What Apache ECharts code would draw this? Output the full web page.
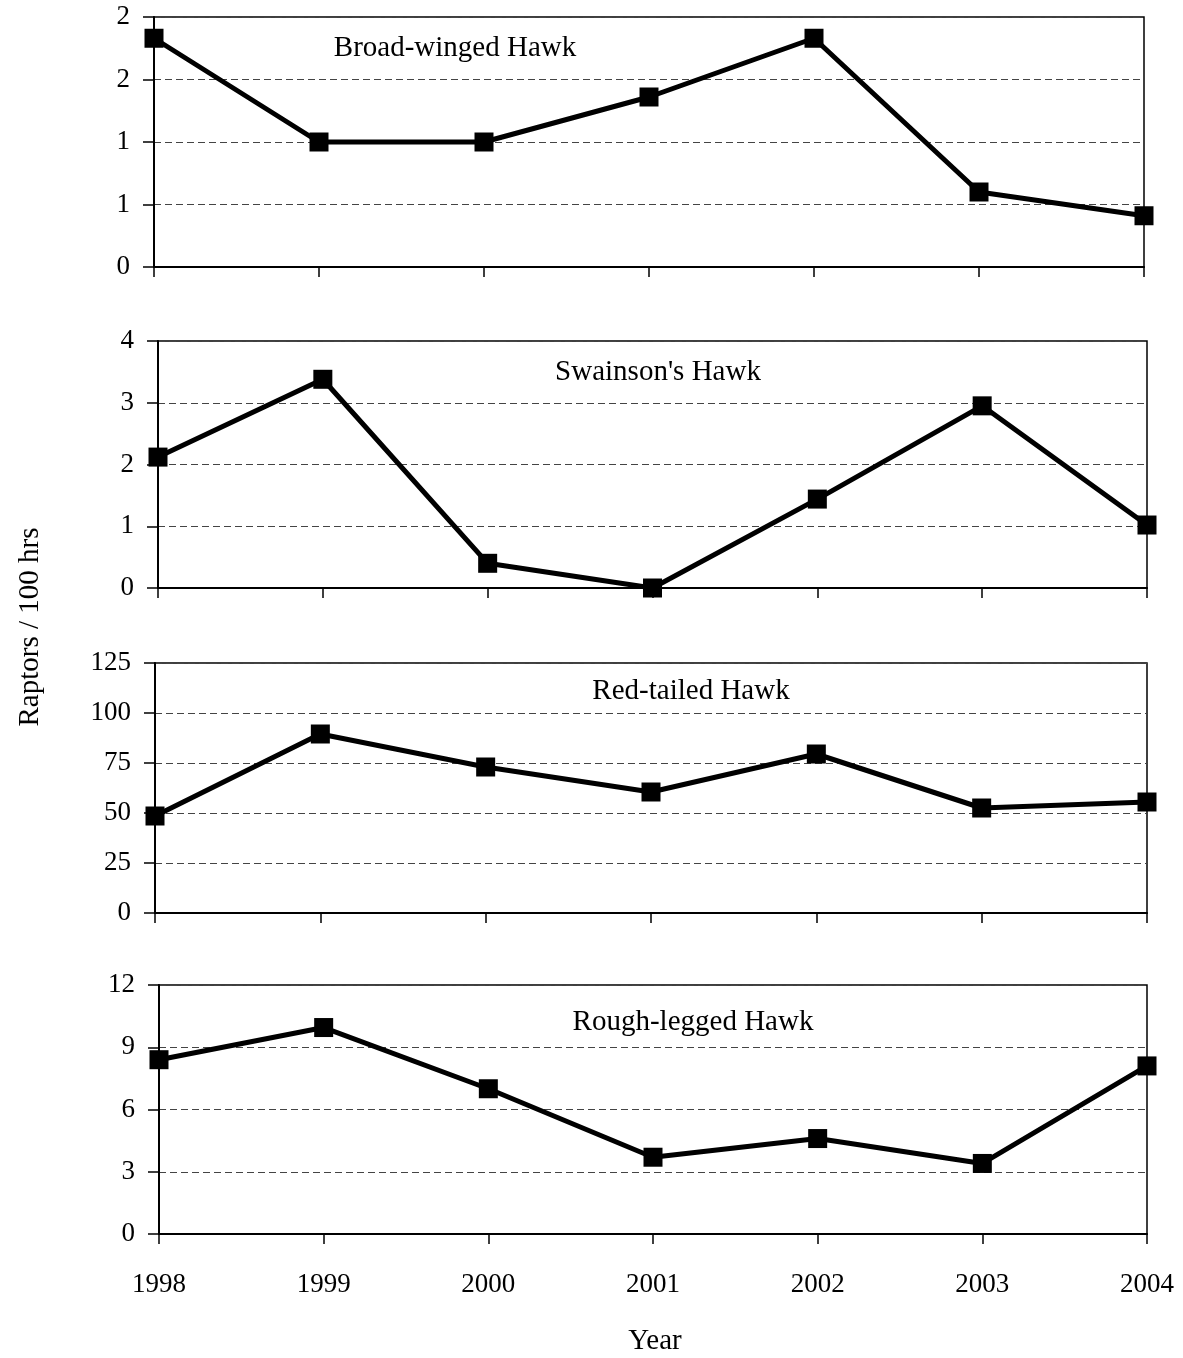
<!DOCTYPE html>
<html>
<head>
<meta charset="utf-8">
<title>Raptors per 100 hours, 1998–2004</title>
<script src="https://cdn.jsdelivr.net/npm/echarts@6/dist/echarts.min.js"></script>
<style>
  html, body { margin: 0; padding: 0; background: #fff; }
  #chart { width: 1183px; height: 1358px; }
</style>
</head>
<body>
<div id="chart"></div>
<script>
// Survey years (x axis, shared by all panels)
const years = ['1998', '1999', '2000', '2001', '2002', '2003', '2004'];

// Raptors / 100 hrs for each species
const broadWinged = [1.83, 1.0, 1.0, 1.36, 1.83, 0.6, 0.41];
const swainsons   = [2.12, 3.38, 0.4, 0.0, 1.44, 2.95, 1.02];
const redTailed   = [48.5, 89.5, 73, 60.5, 79.5, 52.5, 55.5];
const roughLegged = [8.4, 9.95, 7.0, 3.7, 4.6, 3.4, 8.1];

// Panel titles
const speciesNames = ['Broad-winged Hawk', "Swainson's Hawk", 'Red-tailed Hawk', 'Rough-legged Hawk'];

// Y tick labels per panel (the first panel rounds its half steps to whole numbers)
const broadWingedTicks = ['0', '1', '1', '2', '2'];
const swainsonsTicks   = ['0', '1', '2', '3', '4'];
const redTailedTicks   = ['0', '25', '50', '75', '100', '125'];
const roughLeggedTicks = ['0', '3', '6', '9', '12'];

const yScales = [
  { max: 2,   interval: 0.5, labels: broadWingedTicks },
  { max: 4,   interval: 1,   labels: swainsonsTicks },
  { max: 125, interval: 25,  labels: redTailedTicks },
  { max: 12,  interval: 3,   labels: roughLeggedTicks }
];
const seriesData = [broadWinged, swainsons, redTailed, roughLegged];

const FONT = '"Liberation Serif", "Times New Roman", serif';

// Plot areas of the four stacked panels
const grids = [
  { left: 154, top: 17,  width: 990, height: 250 },
  { left: 158, top: 341, width: 989, height: 247 },
  { left: 155, top: 663, width: 992, height: 250 },
  { left: 159, top: 985, width: 988, height: 249 }
];

// Title anchor points (centre of each panel title)
const titlePos = [[455, 48], [658, 372], [691, 691], [693, 1022]];

const chart = echarts.init(document.getElementById('chart'), null, { renderer: 'canvas' });

const option = {
  animation: false,
  backgroundColor: '#ffffff',
  grid: grids.map(g => Object.assign({
    show: true, borderColor: '#000', borderWidth: 1.5,
    backgroundColor: 'transparent', containLabel: false
  }, g)),
  xAxis: grids.map((g, i) => ({
    type: 'category',
    gridIndex: i,
    data: years,
    boundaryGap: false,
    axisLine: { show: true, lineStyle: { color: '#000', width: 2 } },
    axisTick: { show: true, inside: false, length: 10, lineStyle: { color: '#000', width: 1.5 } },
    axisLabel: {
      show: i === 3, margin: 37, color: '#000',
      fontFamily: FONT, fontSize: 27
    },
    splitLine: { show: false }
  })),
  yAxis: yScales.map((s, i) => ({
    type: 'value',
    gridIndex: i,
    min: 0, max: s.max, interval: s.interval,
    axisLine: { show: true, lineStyle: { color: '#000', width: 2 } },
    axisTick: { show: true, inside: false, length: 11, lineStyle: { color: '#000', width: 1.5 } },
    axisLabel: {
      margin: 24, color: '#000', fontFamily: FONT, fontSize: 27,
      formatter: v => s.labels[Math.round(v / s.interval)]
    },
    splitLine: { show: true, lineStyle: { color: '#444', width: 1, type: [7, 4] } }
  })),
  series: seriesData.map((d, i) => ({
    type: 'line',
    name: speciesNames[i],
    xAxisIndex: i,
    yAxisIndex: i,
    data: d,
    clip: false,
    symbol: 'rect',
    symbolSize: 19,
    showAllSymbol: true,
    lineStyle: { color: '#000', width: 5 },
    itemStyle: { color: '#000', borderWidth: 0 },
    z: 5
  })),
  graphic: [
    ...speciesNames.map((name, i) => ({
      type: 'text',
      x: titlePos[i][0], y: titlePos[i][1],
      z: 10,
      style: {
        text: name, fill: '#000', font: '29px ' + FONT,
        textAlign: 'center', textVerticalAlign: 'middle'
      }
    })),
    {
      type: 'text', x: 30, y: 627, rotation: Math.PI / 2,
      style: {
        text: 'Raptors / 100 hrs', fill: '#000', font: '29px ' + FONT,
        textAlign: 'center', textVerticalAlign: 'middle'
      }
    },
    {
      type: 'text', x: 655, y: 1341,
      style: {
        text: 'Year', fill: '#000', font: '29px ' + FONT,
        textAlign: 'center', textVerticalAlign: 'middle'
      }
    }
  ]
};

chart.setOption(option);
</script>
</body>
</html>
